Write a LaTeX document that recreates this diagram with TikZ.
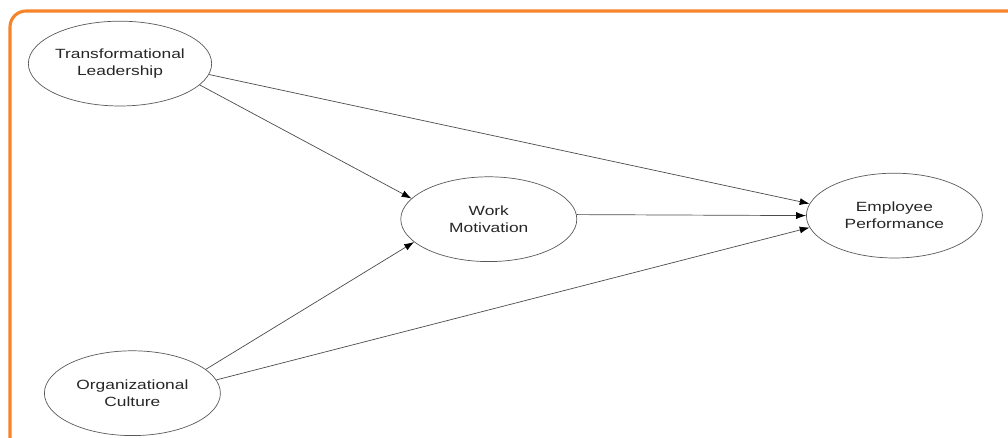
\documentclass[tikz,border=0pt]{standalone}
\usepackage{fontspec}
\setmainfont{Liberation Sans}[FakeStretch=1.3]
\usepackage{tikz}
\usetikzlibrary{arrows.meta,shapes.geometric}
\definecolor{frameorange}{RGB}{247,131,42}

\begin{document}
\begin{tikzpicture}[
  construct/.style={ellipse,draw=black!65,line width=0.5pt,minimum width=4.4cm,minimum height=2.12cm,inner sep=0pt,align=center,font=\fontsize{9.5}{12}\selectfont,text=black!85},
  effect/.style={draw=black!70,line width=0.5pt,-{Latex[length=7pt,width=5pt,color=black]}}]
\useasboundingbox (0cm,0cm) rectangle (25.2cm,-10.95cm);
\clip (0cm,0cm) rectangle (25.2cm,-10.95cm);
\draw[frameorange,line width=2.2pt,rounded corners=0.4cm] (0.25cm,-0.275cm) rectangle (25.6cm,-11.6cm);
\node[construct] (tl) at (3.0 cm,-1.59cm) {Transformational\\Leadership};
\node[construct] (wm) at (12.22cm,-5.48cm) {Work\\Motivation};
\node[construct] (ep) at (22.36cm,-5.39cm) {Employee\\Performance};
\node[construct] (oc) at (3.31 cm,-9.83cm) {Organizational\\Culture};
\draw[effect] (tl.-7) -- (ep.172);
\draw[effect] (tl.-15) -- (wm.165);
\draw[effect] (wm.3) -- (ep.180);
\draw[effect] (oc.18) -- (wm.197);
\draw[effect] (oc.9) -- (ep.188);
\end{tikzpicture}
\end{document}
